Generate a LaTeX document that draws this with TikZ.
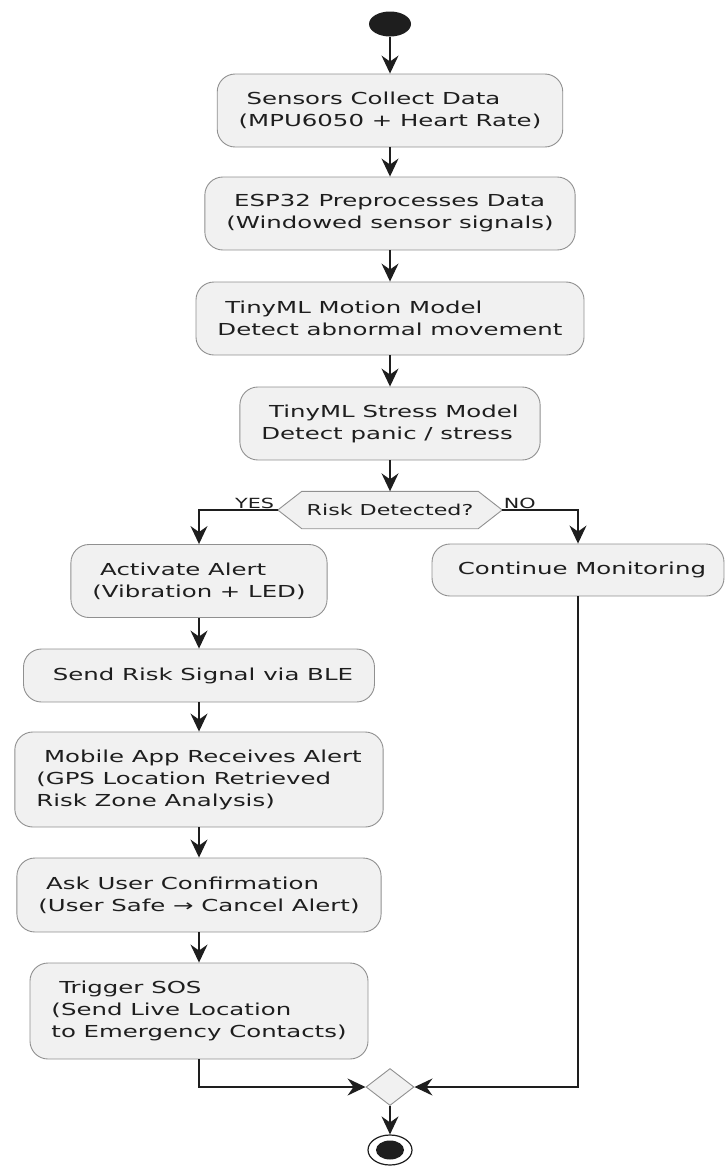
\documentclass[tikz,border=0pt]{standalone}
\usepackage{fontspec}
\setmainfont[FakeStretch=1.48]{DejaVu Sans}
\usetikzlibrary{%
  arrows.meta,%
  shapes.geometric,% wg. diamond, ellipse
  backgrounds%
}
\definecolor{actfill}{HTML}{F1F1F1}
\definecolor{actline}{HTML}{909090}
\definecolor{ink}{HTML}{1E1E1E}
\newcommand{\fsp}{\hspace*{7.8pt}}

\begin{document}
\begin{tikzpicture}
  [
  x=1pt, y=-1pt, color=ink, >={Stealth[length=18pt,width=17pt,inset=6pt]}, line width=1.4pt,
  action/.style={rectangle, rounded corners=18pt, draw=actline, fill=actfill, line width=0.9pt, text=ink, align=left, inner xsep=21.5pt, inner ysep=0pt, minimum height=73pt, font=\fontsize{16.5}{22}\selectfont},
  decision/.style={rectangle, minimum width=175pt, minimum height=36pt, inner sep=0pt, text=ink, font=\fontsize{15}{18}\selectfont},
  merge/.style={diamond, draw=actline, fill=actfill, line width=0.9pt, minimum width=48pt, minimum height=37pt, inner sep=0pt},
  startdot/.style={ellipse, fill=ink, minimum width=42pt, minimum height=25pt, inner sep=0pt},
  endring/.style={ellipse, draw=ink, fill=white, line width=1.2pt, minimum width=44pt, minimum height=30pt, inner sep=0pt},
  enddot/.style={ellipse, fill=ink, minimum width=28pt, minimum height=19pt, inner sep=0pt},
  guard/.style={font=\fontsize{14}{16}\selectfont, text=ink, inner sep=1pt}
  ]
\useasboundingbox (0,0) rectangle (725,1167);

\node[startdot] (start) at (390,24) {};
\node[action] (b1) at (390,110.5) {\fsp Sensors Collect Data\\(MPU6050 + Heart Rate)};
\node[action] (b2) at (390,213.5) {\fsp ESP32 Preprocesses Data\\(Windowed sensor signals)};
\node[action] (b3) at (390,318.5) {\fsp TinyML Motion Model\\Detect abnormal movement};
\node[action] (b4) at (390,423.5) {\fsp TinyML Stress Model\\Detect panic / stress};
\node[decision] (risk) at (390,510) {Risk Detected?};
\coordinate (riskL) at ([xshift=-24pt]risk.west);
\coordinate (riskR) at ([xshift=24pt]risk.east);
\begin{scope}[on background layer]
\draw[actline, fill=actfill, line width=0.9pt] (risk.north west) -- (risk.north east) -- (riskR) -- (risk.south east) -- (risk.south west) -- (riskL) -- cycle;
\end{scope}

\node[action] (b5) at (199,581) {\fsp Activate Alert\\(Vibration + LED)};
\node[action, minimum height=52pt, inner xsep=18pt] (b6) at (578,570) {\fsp Continue Monitoring};
\node[action, minimum height=53pt] (b7) at (199,675.5) {\fsp Send Risk Signal via BLE};
\node[action, minimum height=95pt] (b8) at (199,779.5) {\fsp Mobile App Receives Alert\\(GPS Location Retrieved\\Risk Zone Analysis)};
\node[action, minimum height=74pt] (b9) at (199,895) {\fsp Ask User Confirmation\\(User Safe → Cancel Alert)};
\node[action, minimum height=96pt] (b10) at (199,1011) {\fsp Trigger SOS\\(Send Live Location\\to Emergency Contacts)};

\node[merge] (join) at (390,1087) {};
\node[endring] (stop) at (390,1150) {};
\node[enddot] (stopdot) at (stop) {};

\foreach \a/\b in {start/b1, b1/b2, b2/b3, b3/b4, b4/risk, b5/b7, b7/b8, b8/b9, b9/b10} {
  \draw[->] (\a) -- (\b);
}

\draw[->] (riskL) -| (b5.north) node[pos=0, guard, anchor=south east, xshift=-2pt] {YES};
\draw[->] (riskR) -| (b6.north) node[pos=0, guard, anchor=south west] {NO};

\draw[->] (b10.south) |- (join.west);
\draw[->] (b6.south) |- (join.east);
\draw[->] (join) -- (stop);

\end{tikzpicture}
\end{document}
